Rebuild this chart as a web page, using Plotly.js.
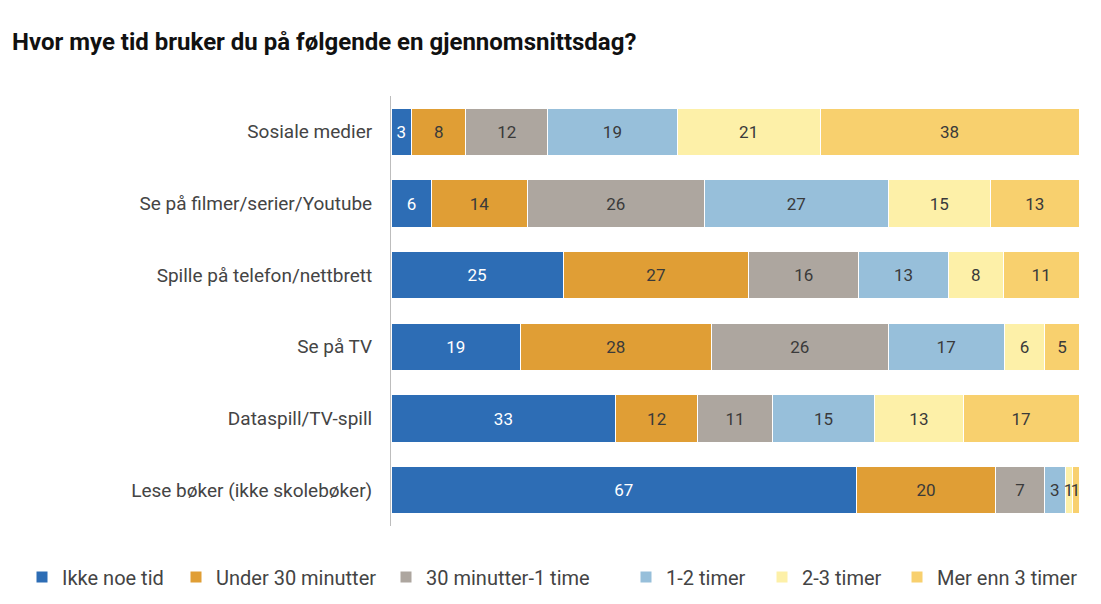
<!DOCTYPE html>
<html>
<head>
<meta charset="utf-8">
<script src="https://cdn.plot.ly/plotly-3.0.1.min.js"></script>
<style>html,body{margin:0;padding:0;background:#fff;}#chart{width:1101px;height:604px;}</style>
</head>
<body>
<div id="chart"></div>
<script>
const categories = ["Sosiale medier", "Se på filmer/serier/Youtube", "Spille på telefon/nettbrett", "Se på TV", "Dataspill/TV-spill", "Lese bøker (ikke skolebøker)"];
const seriesNames = ["Ikke noe tid", "Under 30 minutter", "30 minutter-1 time", "1-2 timer", "2-3 timer", "Mer enn 3 timer"];
const ikkeNoeTid   = [3, 6, 25, 19, 33, 67];
const under30      = [8, 14, 27, 28, 12, 20];
const min30til1t   = [12, 26, 16, 26, 11, 7];
const timer1til2   = [19, 27, 13, 17, 15, 3];
const timer2til3   = [21, 15, 8, 6, 13, 1];
const merEnn3      = [38, 13, 11, 5, 17, 1];
const seriesValues = [ikkeNoeTid, under30, min30til1t, timer1til2, timer2til3, merEnn3];
const colors = ["#2D6DB5", "#E09E35", "#ADA69F", "#97BFDA", "#FDF0A8", "#F8D06E"];
const textColors = ["#ffffff", "#3a3a3a", "#3a3a3a", "#3a3a3a", "#3a3a3a", "#3a3a3a"];
// legend text start positions (px) in the reference
const legendTextX = [58, 212, 422, 662, 798, 933];
const FONT = "Roboto, 'Open Sans', sans-serif";
const W = 1101, H = 604;

const legendIds = ["legend", "legend2", "legend3", "legend4", "legend5", "legend6"];

const traces = seriesValues.map((vals, i) => ({
  type: "bar",
  orientation: "h",
  name: seriesNames[i],
  legend: legendIds[i],
  y: categories,
  x: vals,
  text: vals.map(String),
  texttemplate: "%{text}",
  textposition: "inside",
  insidetextanchor: "middle",
  textangle: 0,
  constraintext: "none",
  insidetextfont: {family: FONT, size: 17, color: textColors[i]},
  marker: {color: colors[i], line: {color: "#ffffff", width: 1}},
  hoverinfo: "name+x"
}));

const layout = {
  width: W, height: H,
  paper_bgcolor: "#ffffff", plot_bgcolor: "#ffffff",
  barmode: "stack",
  barnorm: "percent",
  bargap: 0.34,
  margin: {l: 391, r: 22, t: 96, b: 78, pad: 0},
  font: {family: FONT, color: "#333333"},
  title: {
    text: "<b>Hvor mye tid bruker du på følgende en gjennomsnittsdag?</b>",
    x: 12 / W, xanchor: "left", xref: "container",
    y: 1 - 42 / H, yanchor: "middle", yref: "container",
    font: {family: FONT, size: 24, color: "#111111"}
  },
  xaxis: {range: [0, 100], visible: false, fixedrange: true},
  yaxis: {
    categoryorder: "array", categoryarray: categories,
    autorange: "reversed",
    showline: true, linecolor: "#bdbdbd", linewidth: 1,
    ticks: "", showgrid: false, zeroline: false,
    ticklabelstandoff: 14,
    tickfont: {family: FONT, size: 19, color: "#444444"}
  },
  uniformtext: {mode: "show", minsize: 17},
  showlegend: true
};

legendIds.forEach((id, i) => {
  layout[id] = {
    orientation: "h",
    x: (legendTextX[i] - 36) / W, xanchor: "left", xref: "container",
    y: 1 - 577 / H, yanchor: "middle", yref: "container",
    font: {family: FONT, size: 20, color: "#444444"},
    itemwidth: 30,
    bgcolor: "rgba(0,0,0,0)"
  };
});

Plotly.newPlot("chart", traces, layout, {displayModeBar: false, staticPlot: true});
</script>
</body>
</html>
